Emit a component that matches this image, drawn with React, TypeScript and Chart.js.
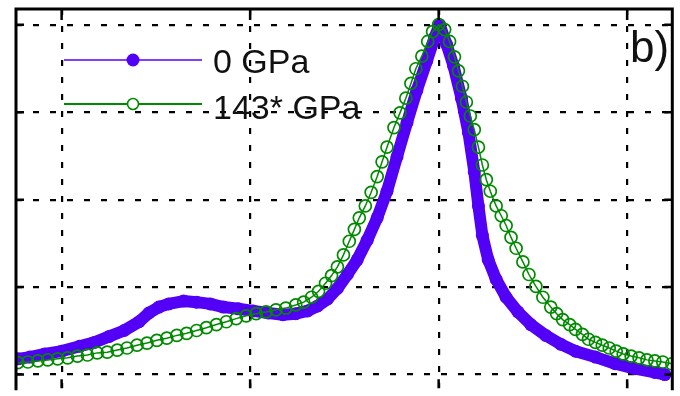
import React, { useEffect, useRef } from "react";
import { Chart, registerables } from "chart.js";

Chart.register(...registerables);

// ---- axes (grid positions, normalised intensity) ----
const xGridValues = [-2, -1, 0, 1];
const yGridValues = [0, 0.25, 0.5, 0.75, 1];
const xMin = -2.242;
const xMax = 1.2395;
const yMin = -0.0392;
const yMax = 1.0448;

// ---- labels ----
const seriesNames = ["0 GPa", "143* GPa"];
const panelLabel = "b)";

// ---- series: 0 GPa ----
const x0GPa = [
  -2.232, -2.168, -2.089, -2.0, -1.905, -1.826, -1.747, -1.668, -1.589, -1.537,
  -1.484, -1.432, -1.353, -1.284, -1.211, -1.142, -1.063, -0.984, -0.905, -0.826,
  -0.758, -0.695, -0.642, -0.589, -0.537, -0.484, -0.432, -0.379, -0.326, -0.274,
  -0.221, -0.168, -0.116, -0.063, -0.021, 0.005, 0.042, 0.079, 0.121, 0.158,
  0.189, 0.211, 0.232, 0.263, 0.305, 0.358, 0.421, 0.489, 0.568, 0.647,
  0.726, 0.832, 0.937, 1.042, 1.147, 1.2,
];
const y0GPa = [
  0.045, 0.05, 0.059, 0.067, 0.081, 0.092, 0.109, 0.126, 0.151, 0.176,
  0.193, 0.202, 0.21, 0.207, 0.202, 0.193, 0.188, 0.182, 0.176, 0.171,
  0.174, 0.182, 0.196, 0.216, 0.246, 0.286, 0.328, 0.384, 0.448, 0.524,
  0.622, 0.72, 0.812, 0.896, 0.964, 1.0, 0.944, 0.882, 0.79, 0.692,
  0.58, 0.482, 0.398, 0.328, 0.272, 0.221, 0.179, 0.143, 0.112, 0.087,
  0.067, 0.05, 0.031, 0.017, 0.006, 0.0,
];

// ---- series: 143* GPa ----
const x143GPa = [
  -2.232, -2.179, -2.126, -2.074, -2.021, -1.968, -1.916, -1.863, -1.811, -1.758,
  -1.705, -1.653, -1.6, -1.547, -1.495, -1.442, -1.389, -1.337, -1.284, -1.232,
  -1.179, -1.126, -1.074, -1.021, -0.968, -0.916, -0.863, -0.811, -0.758, -0.716,
  -0.674, -0.637, -0.6, -0.568, -0.537, -0.505, -0.474, -0.447, -0.421, -0.389,
  -0.358, -0.326, -0.3, -0.274, -0.237, -0.205, -0.174, -0.147, -0.121, -0.089,
  -0.058, -0.032, 0.0, 0.032, 0.058, 0.084, 0.105, 0.126, 0.147, 0.168,
  0.189, 0.211, 0.232, 0.253, 0.274, 0.305, 0.332, 0.358, 0.384, 0.411,
  0.447, 0.479, 0.516, 0.553, 0.595, 0.626, 0.658, 0.695, 0.726, 0.763,
  0.795, 0.832, 0.868, 0.905, 0.942, 0.979, 1.021, 1.063, 1.105, 1.147,
  1.189, 1.237,
];
const y143GPa = [
  0.034, 0.036, 0.039, 0.042, 0.045, 0.048, 0.053, 0.056, 0.062, 0.064,
  0.07, 0.076, 0.084, 0.09, 0.098, 0.104, 0.112, 0.118, 0.126, 0.134,
  0.143, 0.151, 0.16, 0.168, 0.174, 0.179, 0.185, 0.19, 0.199, 0.207,
  0.221, 0.238, 0.261, 0.283, 0.308, 0.342, 0.381, 0.415, 0.448, 0.482,
  0.521, 0.566, 0.608, 0.65, 0.706, 0.748, 0.79, 0.832, 0.874, 0.91,
  0.952, 0.98, 1.0, 0.986, 0.952, 0.908, 0.868, 0.824, 0.779, 0.739,
  0.7, 0.65, 0.599, 0.557, 0.524, 0.482, 0.454, 0.426, 0.392, 0.361,
  0.322, 0.286, 0.252, 0.221, 0.193, 0.174, 0.157, 0.143, 0.129, 0.115,
  0.101, 0.092, 0.084, 0.076, 0.067, 0.059, 0.053, 0.048, 0.042, 0.039,
  0.036, 0.031,
];

const PURPLE = "#5300f6";
const GREEN = "#008a00";
const FONT = '"Liberation Sans", Arial, Helvetica, sans-serif';

const framePlugin = {
  id: "frame",
  afterDatasetsDraw(chart: any) {
    const { ctx, chartArea: a, scales } = chart;
    ctx.save();
    ctx.strokeStyle = "#000";
    ctx.setLineDash([]);
    // tick marks
    ctx.lineWidth = 2.5;
    ctx.beginPath();
    xGridValues.forEach((v) => {
      const px = scales.x.getPixelForValue(v);
      ctx.moveTo(px, a.top);
      ctx.lineTo(px, a.top + 11);
      ctx.moveTo(px, a.bottom);
      ctx.lineTo(px, a.bottom - 9);
    });
    yGridValues.forEach((v) => {
      const py = scales.y.getPixelForValue(v);
      ctx.moveTo(a.left, py);
      ctx.lineTo(a.left + 8, py);
      ctx.moveTo(a.right, py);
      ctx.lineTo(a.right - 8, py);
    });
    ctx.stroke();
    // frame (bottom edge lies outside the picture)
    ctx.lineWidth = 3;
    ctx.beginPath();
    ctx.moveTo(a.left, a.bottom + 2);
    ctx.lineTo(a.left, a.top);
    ctx.lineTo(a.right, a.top);
    ctx.lineTo(a.right, a.bottom + 2);
    ctx.stroke();
    ctx.restore();
  },
  afterDraw(chart: any) {
    const { ctx } = chart;
    ctx.save();
    // legend entry 1
    ctx.strokeStyle = PURPLE;
    ctx.lineWidth = 1.6;
    ctx.beginPath();
    ctx.moveTo(64, 60);
    ctx.lineTo(202, 60);
    ctx.stroke();
    ctx.fillStyle = PURPLE;
    ctx.beginPath();
    ctx.arc(133, 60, 6.5, 0, Math.PI * 2);
    ctx.fill();
    // legend entry 2
    ctx.strokeStyle = GREEN;
    ctx.lineWidth = 2;
    ctx.beginPath();
    ctx.moveTo(64, 104);
    ctx.lineTo(202, 104);
    ctx.stroke();
    ctx.fillStyle = "#fff";
    ctx.lineWidth = 1.6;
    ctx.beginPath();
    ctx.arc(133, 104, 5.5, 0, Math.PI * 2);
    ctx.fill();
    ctx.stroke();
    // texts
    ctx.fillStyle = "#111";
    ctx.textBaseline = "alphabetic";
    ctx.textAlign = "left";
    ctx.font = `34px ${FONT}`;
    ctx.fillText(seriesNames[0], 213, 73);
    ctx.fillText(seriesNames[1], 213, 119);
    ctx.font = `44px ${FONT}`;
    ctx.fillText(panelLabel, 630, 62);
    ctx.restore();
  },
};

export default function App() {
  const ref = useRef<HTMLCanvasElement | null>(null);

  useEffect(() => {
    document.body.style.margin = "0";
    document.body.style.overflow = "hidden";
    const canvas = ref.current;
    if (!canvas) return;
    const chart = new Chart(canvas, {
      type: "scatter",
      data: {
        datasets: [
          {
            label: seriesNames[1],
            data: x143GPa.map((x, i) => ({ x, y: y143GPa[i] })),
            showLine: true,
            borderColor: GREEN,
            borderWidth: 1.5,
            pointRadius: 6,
            pointBorderWidth: 1.7,
            pointBorderColor: GREEN,
            pointBackgroundColor: "rgba(255,255,255,0)",
            order: 0,
          },
          {
            label: seriesNames[0],
            data: x0GPa.map((x, i) => ({ x, y: y0GPa[i] })),
            showLine: true,
            borderColor: PURPLE,
            borderWidth: 12,
            borderJoinStyle: "round",
            borderCapStyle: "round",
            pointRadius: 6.5,
            pointBorderWidth: 0,
            pointBackgroundColor: PURPLE,
            order: 1,
          },
        ],
      },
      options: {
        responsive: false,
        animation: false,
        devicePixelRatio: 1,
        layout: { padding: { left: 16, right: 2.5, top: 9, bottom: 0 } },
        plugins: { legend: { display: false }, tooltip: { enabled: false } },
        scales: {
          x: {
            type: "linear",
            min: xMin,
            max: xMax,
            afterBuildTicks: (axis: any) => {
              axis.ticks = xGridValues.map((v) => ({ value: v }));
            },
            ticks: { display: false },
            grid: { color: "#000", lineWidth: 2.2, drawTicks: false },
            border: { display: false, dash: [6, 11] },
          },
          y: {
            type: "linear",
            min: yMin,
            max: yMax,
            afterBuildTicks: (axis: any) => {
              axis.ticks = yGridValues.map((v) => ({ value: v }));
            },
            ticks: { display: false },
            grid: { color: "#000", lineWidth: 2.2, drawTicks: false },
            border: { display: false, dash: [6, 11] },
          },
        },
      },
      plugins: [framePlugin],
    } as any);
    return () => chart.destroy();
  }, []);

  return (
    <div style={{ position: "fixed", left: 0, top: 0, width: 680, height: 396 }}>
      <canvas ref={ref} width={680} height={396} style={{ display: "block" }} />
    </div>
  );
}
